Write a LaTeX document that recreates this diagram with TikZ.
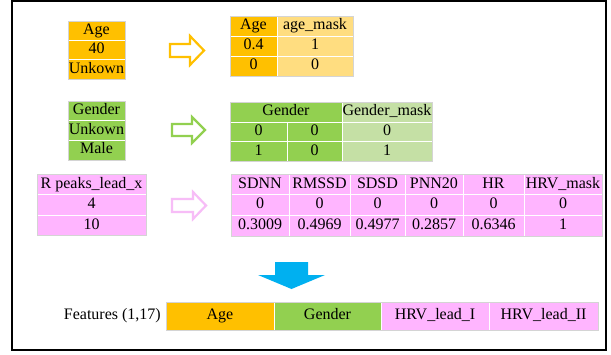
\documentclass[tikz,border=0pt]{standalone}
\usepackage{fontspec}
\setmainfont{Liberation Serif}
\definecolor{ag}{HTML}{FFC000}
\definecolor{agl}{HTML}{FFDD80}
\definecolor{gn}{HTML}{92D050}
\definecolor{gnl}{HTML}{C5E0A5}
\definecolor{pk}{HTML}{FFB5FF}
\definecolor{pka}{HTML}{F7BDF7}
\definecolor{bl}{HTML}{00B0F0}
\definecolor{tb}{HTML}{D4D4D4}
\tikzset{
  cell/.style={draw=white, line width=0.8pt, inner sep=0pt, font=\fontsize{16}{18}\selectfont, text height=11pt, text depth=3.5pt},
  tblborder/.style={draw=tb, line width=0.9pt},
  hollowarrow/.style={line width=2.2pt, fill=white, line join=miter},
  lbl/.style={inner sep=0pt, font=\fontsize{16}{18}\selectfont, text height=11pt, text depth=3.5pt}
}
\begin{document}
\begin{tikzpicture}[x=1pt,y=-1pt]
\useasboundingbox (0,0) rectangle (611,354);
\fill[white] (0,0) rectangle (611,354);
\draw[line width=2pt] (12,1) rectangle (606,350);

% Age input
\node[cell, fill=ag, minimum width=57, minimum height=19.33] (a1) at (96.5,30.67) {Age};
\node[cell, fill=ag, minimum width=57, minimum height=19.33] (a2) at (96.5,50) {40};
\node[cell, fill=ag, minimum width=57, minimum height=19.33] (a3) at (96.5,69.33) {Unkown};
\draw[tblborder] (68,21) rectangle (125,79);

% Age arrow
\draw[hollowarrow, draw=ag] (170,44) -- (190,44) -- (190,36) -- (204,50.5) -- (190,65) -- (190,57) -- (170,57) -- cycle;

% Age output
\node[cell, fill=ag, minimum width=47, minimum height=20] (ar11) at (253.5,26) {Age};
\node[cell, fill=agl, minimum width=76, minimum height=20] (ar12) at (315,26) {age\_mask};
\node[cell, fill=ag, minimum width=47, minimum height=20] (ar21) at (253.5,46) {0.4};
\node[cell, fill=agl, minimum width=76, minimum height=20] (ar22) at (315,46) {1};
\node[cell, fill=ag, minimum width=47, minimum height=20] (ar31) at (253.5,66) {0};
\node[cell, fill=agl, minimum width=76, minimum height=20] (ar32) at (315,66) {0};
\draw[tblborder] (230,16) rectangle (353,76);

% Gender input
\node[cell, fill=gn, minimum width=57, minimum height=19.67] (g1) at (96.5,110.83) {Gender};
\node[cell, fill=gn, minimum width=57, minimum height=19.67] (g2) at (96.5,130.5) {Unkown};
\node[cell, fill=gn, minimum width=57, minimum height=19.67] (g3) at (96.5,150.17) {Male};
\draw[tblborder] (68,101) rectangle (125,160);

% Gender arrow
\draw[hollowarrow, draw=gn] (172,124) -- (192,124) -- (192,117) -- (205,130) -- (192,143) -- (192,136) -- (172,136) -- cycle;

% Gender output
\node[cell, fill=gn, minimum width=112, minimum height=20] (gr1) at (286,112) {Gender};
\node[cell, fill=gnl, minimum width=90, minimum height=20] (gr1m) at (387,112) {Gender\_mask};
\node[cell, fill=gn, minimum width=57, minimum height=19.5] (gr21) at (258.5,131.75) {0};
\node[cell, fill=gn, minimum width=55, minimum height=19.5] (gr22) at (314.5,131.75) {0};
\node[cell, fill=gnl, minimum width=90, minimum height=19.5] (gr23) at (387,131.75) {0};
\node[cell, fill=gn, minimum width=57, minimum height=19.5] (gr31) at (258.5,151.25) {1};
\node[cell, fill=gn, minimum width=55, minimum height=19.5] (gr32) at (314.5,151.25) {0};
\node[cell, fill=gnl, minimum width=90, minimum height=19.5] (gr33) at (387,151.25) {1};
\draw[tblborder] (230,102) rectangle (432,161);

% HRV input
\node[cell, fill=pk, minimum width=109, minimum height=20.5] (h1) at (91.5,184.25) {R peaks\_lead\_x};
\node[cell, fill=pk, minimum width=109, minimum height=20.5] (h2) at (91.5,204.75) {4};
\node[cell, fill=pk, minimum width=109, minimum height=20.5] (h3) at (91.5,225.25) {10};
\draw[tblborder] (37,174) rectangle (146,235.5);

% HRV arrow
\draw[hollowarrow, draw=pka] (172,199) -- (193,199) -- (193,192) -- (206,205.5) -- (193,219) -- (193,212) -- (172,212) -- cycle;

% HRV output
\foreach \cx/\w/\hd/\va/\vb [count=\i] in {260/58/SDNN/0/0.3009, 319.5/61/RMSSD/0/0.4969, 377.5/55/SDSD/0/0.4977, 434/58/PNN20/0/0.2857, 493.5/61/HR/0/0.6346, 563/78/HRV\_mask/0/1}{
  \node[cell, fill=pk, minimum width=\w, minimum height=20.67] (hr1\i) at (\cx,184.33) {\hd};
  \node[cell, fill=pk, minimum width=\w, minimum height=20.67] (hr2\i) at (\cx,205) {\va};
  \node[cell, fill=pk, minimum width=\w, minimum height=20.67] (hr3\i) at (\cx,225.67) {\vb};
}
\draw[tblborder] (231,174) rectangle (602,236);

% Blue arrow
\fill[bl] (275,262) -- (308,262) -- (308,275) -- (325,275) -- (291.5,289) -- (258,275) -- (275,275) -- cycle;

% Features row
\node[lbl, anchor=east] (flab) at (161,316) {Features (1,17)};
\node[cell, fill=ag, minimum width=108, minimum height=28] (f1) at (220,316) {Age};
\node[cell, fill=gn, minimum width=107, minimum height=28] (f2) at (327.5,316) {Gender};
\node[cell, fill=pk, minimum width=108, minimum height=28] (f3) at (435,316) {HRV\_lead\_I};
\node[cell, fill=pk, minimum width=109, minimum height=28] (f4) at (543.5,316) {HRV\_lead\_II};
\draw[tblborder] (166,302) rectangle (598,330);
\end{tikzpicture}
\end{document}
